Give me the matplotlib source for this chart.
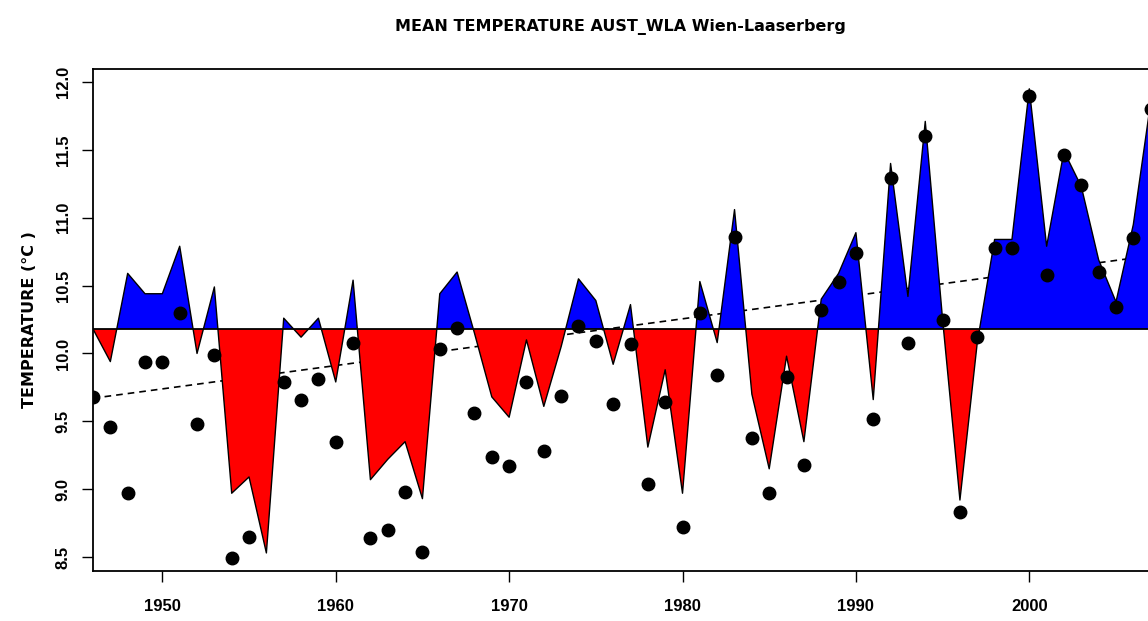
# Mean temperature Wien-Laaserberg, R-style anomaly plot redone in matplotlib
import numpy as np
import matplotlib
matplotlib.use("Agg")
import matplotlib.pyplot as plt

years = np.arange(1946, 2008)

# yearly mean temperature (black dots), 1956 missing
temps = [9.68, 9.46, 8.97, 9.94, 9.94, 10.30, 9.48, 9.99, 8.49, 8.65,
         np.nan, 9.79, 9.66, 9.81, 9.35, 10.08, 8.64, 8.70, 8.98, 8.54,
         10.03, 10.19, 9.56, 9.24, 9.17, 9.79, 9.28, 9.69, 10.20, 10.09,
         9.63, 10.07, 9.04, 9.64, 8.72, 10.30, 9.84, 10.86, 9.38, 8.97,
         9.83, 9.18, 10.32, 10.53, 10.74, 9.52, 11.29, 10.08, 11.60, 10.25,
         8.83, 10.12, 10.78, 10.78, 11.90, 10.58, 11.46, 11.24, 10.60, 10.34,
         10.85, 11.80]

# shaded series around the baseline
shade = [10.18, 9.94, 10.59, 10.44, 10.44, 10.79, 10.00, 10.49, 8.97, 9.09,
         8.53, 10.26, 10.12, 10.26, 9.79, 10.54, 9.07, 9.22, 9.35, 8.93,
         10.44, 10.60, 10.15, 9.68, 9.53, 10.10, 9.61, 10.05, 10.55, 10.39,
         9.92, 10.36, 9.31, 9.88, 8.97, 10.53, 10.08, 11.06, 9.70, 9.15,
         9.98, 9.35, 10.40, 10.59, 10.89, 9.66, 11.40, 10.42, 11.71, 10.25,
         8.92, 10.08, 10.84, 10.84, 11.95, 10.79, 11.49, 11.23, 10.69, 10.38,
         10.95, 11.85]

baseline = 10.18

# linear trend, end points
trend_years = [1946, 2007]
trend_vals = [9.67, 10.72]

xticks = [1950, 1960, 1970, 1980, 1990, 2000]
yticks = [8.5, 9.0, 9.5, 10.0, 10.5, 11.0, 11.5, 12.0]

plt.rcParams['font.family'] = ['Liberation Sans', 'DejaVu Sans']
plt.rcParams['font.weight'] = 'bold'

fig = plt.figure(figsize=(11.48, 6.21), dpi=100)
ax = fig.add_axes([93 / 1148, 50 / 621, 1075 / 1148, 502 / 621])

# dashed trend sits under the shading
ax.plot(trend_years, trend_vals, color='black', lw=1.2, ls=(0, (4, 3)), zorder=1)

shade = np.array(shade)
ax.fill_between(years, shade, baseline, where=shade >= baseline,
                interpolate=True, color='#0000ff', linewidth=0, zorder=2)
ax.fill_between(years, shade, baseline, where=shade <= baseline,
                interpolate=True, color='#ff0000', linewidth=0, zorder=2)
ax.plot(years, shade, color='black', lw=1.0, zorder=3)
ax.axhline(baseline, color='black', lw=1.3, zorder=3)

ax.plot(years, temps, 'o', color='black', markersize=9, zorder=4)

ax.set_xlim(1946, 2008)
ax.set_ylim(8.397, 12.096)

ax.set_xticks(xticks)
ax.set_xticklabels([str(t) for t in xticks], fontsize=12, fontweight='bold')
ax.set_yticks(yticks)
ax.set_yticklabels([f"{t:.1f}" for t in yticks], fontsize=12,
                   fontweight='bold', rotation=90, va='center')
ax.tick_params(axis='x', length=8, width=1, pad=12)
ax.tick_params(axis='y', length=8, width=1, pad=8)
for s in ax.spines.values():
    s.set_linewidth(1.3)

fig.text(620 / 1148, 1 - 27 / 621, "MEAN TEMPERATURE AUST_WLA Wien-Laaserberg",
         ha='center', va='center', fontsize=11.5, fontweight='bold',
         family='DejaVu Sans')
fig.text(30 / 1148, 1 - 320 / 621, "TEMPERATURE (°C )", rotation=90,
         ha='center', va='center', fontsize=11.5, fontweight='bold',
         family='DejaVu Sans')

fig.savefig("out.png", dpi=100)
